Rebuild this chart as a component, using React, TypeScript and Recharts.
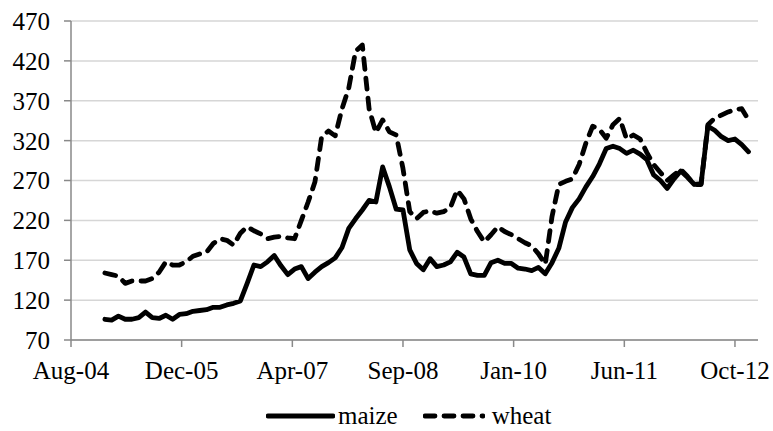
import React from 'react';
import { LineChart, Line, XAxis, YAxis, CartesianGrid, Legend } from 'recharts';

// months counted from Aug-04 (0); series start in Jan-05
const firstMonth = 5;

const maize = [
  96, 95, 100, 96, 96, 98, 105, 98, 97, 101,
  96, 102, 103, 106, 107, 108, 111, 111, 114, 116,
  119, 141, 164, 162, 168, 176, 163, 152, 159, 162,
  147, 155, 162, 167, 173, 186, 210, 222, 233, 245,
  243, 287, 262, 234, 233, 183, 166, 158, 172, 162,
  164, 168, 180, 174, 153, 151, 151, 167, 170, 166,
  166, 160, 159, 157, 161, 153, 167, 185, 218, 236,
  247, 262, 275, 291, 310, 313, 310, 304, 308, 303,
  296, 277, 270, 260, 272, 282, 274, 265, 266, 338,
  333, 325, 320, 322, 315, 306,
];

const wheat = [
  154, 152, 150, 141, 144, 144, 144, 147, 155, 168,
  164, 164, 168, 175, 178, 180, 191, 197, 195, 189,
  204, 212, 207, 203, 197, 199, 200, 198, 197, 220,
  243, 268, 325, 332, 326, 360, 386, 432, 440, 360,
  330, 346, 331, 327, 285, 231, 222, 230, 232, 229,
  231, 236, 258, 247, 222, 206, 193, 202, 212, 206,
  202, 197, 192, 188, 178, 165, 225, 265, 269, 272,
  290, 317, 338, 334, 323, 340, 348, 322, 327, 322,
  305, 290, 280, 270, 277, 284, 275, 265, 265, 340,
  348, 352, 356, 359, 360, 346,
];

const xTickPos = [0, 16.33, 32.67, 49, 65.33, 81.67, 98];
const xTickLabels = ['Aug-04', 'Dec-05', 'Apr-07', 'Sep-08', 'Jan-10', 'Jun-11', 'Oct-12'];
const yTicks = [70, 120, 170, 220, 270, 320, 370, 420, 470];

const data = maize.map((v, i) => ({ x: firstMonth + i, maize: v, wheat: wheat[i] }));

const FONT = '"Times New Roman", Times, Tinos, "Liberation Serif", "Nimbus Roman", "Noto Serif", FreeSerif, "DejaVu Serif", serif';
const LINE_W = 4.8;
const DASH = '11 9';

const LegendContent = () => (
  <div style={{ height: 51, paddingTop: 24, boxSizing: 'border-box', fontFamily: FONT, fontSize: 25, color: '#000' }}>
    <div style={{ display: 'flex', alignItems: 'center', height: 24, paddingLeft: 266 }}>
      <svg width={69} height={10}>
        <line x1={2} y1={5} x2={67} y2={5} stroke="#000" strokeWidth={LINE_W} strokeLinecap="round" />
      </svg>
      <span style={{ marginLeft: 3, lineHeight: '24px' }}>maize</span>
      <svg width={62} height={10} style={{ marginLeft: 25 }}>
        <line x1={2} y1={5} x2={60} y2={5} stroke="#000" strokeWidth={LINE_W} strokeLinecap="round" strokeDasharray="10 9" />
      </svg>
      <span style={{ marginLeft: 7, lineHeight: '24px' }}>wheat</span>
    </div>
  </div>
);

export default function App() {
  return (
    <div style={{ position: 'absolute', left: 0, top: 0, background: '#fff' }}>
      <LineChart width={773} height={431} data={data} margin={{ top: 21, right: 15, left: 0, bottom: 0 }}>
        <CartesianGrid vertical={false} stroke="#d6d6d6" strokeWidth={1.5} />
        <XAxis
          dataKey="x"
          type="number"
          domain={[0, 101.4]}
          ticks={xTickPos}
          tickFormatter={(v: number) => xTickLabels[xTickPos.indexOf(v)] ?? ''}
          interval={0}
          height={40}
          tickSize={7}
          tickMargin={14}
          stroke="#898989"
          strokeWidth={1.5}
          tick={{ fill: '#000', fontSize: 25, fontFamily: FONT }}
        />
        <YAxis
          type="number"
          domain={[70, 470]}
          ticks={yTicks}
          interval={0}
          width={71}
          tickSize={7}
          tickMargin={14}
          stroke="#898989"
          strokeWidth={1.5}
          tick={{ fill: '#000', fontSize: 25, fontFamily: FONT }}
        />
        <Legend verticalAlign="bottom" height={51} content={<LegendContent />} />
        <Line
          type="linear"
          dataKey="maize"
          stroke="#000"
          strokeWidth={LINE_W}
          strokeLinejoin="round"
          strokeLinecap="round"
          dot={false}
          isAnimationActive={false}
        />
        <Line
          type="linear"
          dataKey="wheat"
          stroke="#000"
          strokeWidth={LINE_W}
          strokeLinejoin="round"
          strokeLinecap="round"
          strokeDasharray={DASH}
          dot={false}
          isAnimationActive={false}
        />
      </LineChart>
    </div>
  );
}
